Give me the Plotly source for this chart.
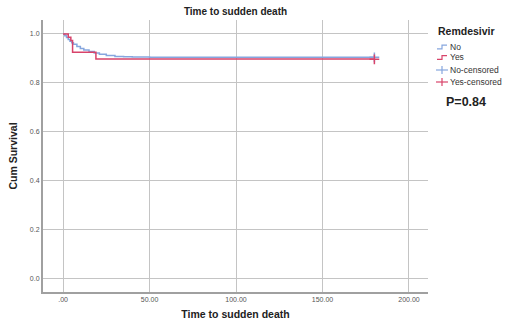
import plotly.graph_objects as go

no_time = [0, 1, 2, 3, 4, 5, 6, 8, 10, 12, 15, 18, 21, 25, 30, 35, 40, 50, 180]
no_surv = [1.0, 0.992, 0.985, 0.977, 0.970, 0.964, 0.958, 0.948, 0.940, 0.934, 0.928, 0.922, 0.917, 0.912, 0.908, 0.906, 0.905, 0.904, 0.904]
yes_time = [0, 3, 4.5, 5.5, 19, 180]
yes_surv = [1.0, 0.986, 0.973, 0.925, 0.897, 0.897]
no_cens_time = [180]
no_cens_surv = [0.904]
yes_cens_time = [180]
yes_cens_surv = [0.896]

x_ticks = [0, 50, 100, 150, 200]
x_labels = [".00", "50.00", "100.00", "150.00", "200.00"]
y_ticks = [0.0, 0.2, 0.4, 0.6, 0.8, 1.0]
y_labels = ["0.0", "0.2", "0.4", "0.6", "0.8", "1.0"]
legend_names = ["No", "Yes", "No-censored", "Yes-censored"]

BLUE = "#86A6DE"
RED = "#D8436A"
FONT = "Liberation Sans, Arial, sans-serif"

W, H = 505, 328
L, R, T, B = 43, 428, 20, 292


def px(x):
    return (x - L) / (R - L)


def py(y):
    return (B - y) / (B - T)


fig = go.Figure()
fig.add_trace(go.Scatter(x=no_time, y=no_surv, mode="lines", line_shape="hv",
                         line=dict(color=BLUE, width=1.5), name=legend_names[0]))
fig.add_trace(go.Scatter(x=yes_time, y=yes_surv, mode="lines", line_shape="hv",
                         line=dict(color=RED, width=1.5), name=legend_names[1]))
fig.add_trace(go.Scatter(x=no_cens_time, y=no_cens_surv, mode="markers",
                         marker=dict(symbol="cross-thin", size=7, line=dict(color=BLUE, width=1.5)),
                         name=legend_names[2]))
fig.add_trace(go.Scatter(x=yes_cens_time, y=yes_cens_surv, mode="markers",
                         marker=dict(symbol="cross-thin", size=7, line=dict(color=RED, width=1.5)),
                         name=legend_names[3]))

axis_common = dict(showgrid=True, gridcolor="#C4C4C4", gridwidth=1.3,
                   showline=True, linecolor="#A0A0A0", linewidth=2,
                   zeroline=False, tickfont=dict(size=7, color="#555555", family=FONT),
                   ticks="", mirror=False)

# manual compact legend (SPSS style)
shapes = []
annotations = []
legend_colors = [BLUE, RED, BLUE, RED]
item_y = [47, 57.5, 70, 82]
for i, (name, col, yy) in enumerate(zip(legend_names, legend_colors, item_y)):
    if i < 2:
        path = (f"M {px(437)} {py(yy + 1.8)} L {px(442)} {py(yy + 1.8)} "
                f"L {px(442)} {py(yy - 1.8)} L {px(447)} {py(yy - 1.8)}")
        shapes.append(dict(type="path", xref="paper", yref="paper", path=path,
                           line=dict(color=col, width=1.2)))
    else:
        shapes.append(dict(type="line", xref="paper", yref="paper",
                           x0=px(436), x1=px(448), y0=py(yy), y1=py(yy),
                           line=dict(color=col, width=1.2)))
        shapes.append(dict(type="line", xref="paper", yref="paper",
                           x0=px(442), x1=px(442), y0=py(yy - 4), y1=py(yy + 4),
                           line=dict(color=col, width=1.2)))
    annotations.append(dict(text=name, xref="paper", yref="paper", x=px(447.5), y=py(yy),
                            xanchor="left", yanchor="middle", showarrow=False,
                            font=dict(size=8.5, color="#333333", family=FONT)))

annotations.append(dict(text="<b>Remdesivir</b>", xref="paper", yref="paper",
                        x=px(466.5), y=py(31), xanchor="center", yanchor="middle",
                        showarrow=False, font=dict(size=10.5, color="#222222", family=FONT)))
annotations.append(dict(text="<b>P=0.84</b>", xref="paper", yref="paper",
                        x=px(466), y=py(102), xanchor="center", yanchor="middle",
                        showarrow=False, font=dict(size=12.5, color="#222222", family=FONT)))

fig.update_layout(
    width=W, height=H,
    margin=dict(l=L, r=W - R, t=T, b=H - B, autoexpand=False),
    paper_bgcolor="white", plot_bgcolor="white",
    font=dict(family=FONT, color="#222222"),
    showlegend=False,
    title=dict(text="<b>Time to sudden death</b>", x=(L + R) / 2 / W, xanchor="center",
               y=1 - 11 / H, yanchor="middle", font=dict(size=10, color="#222222")),
    xaxis=dict(range=[-11.6, 211], tickvals=x_ticks, ticktext=x_labels,
               title=dict(text="<b>Time to sudden death</b>", font=dict(size=10.5), standoff=8),
               **axis_common),
    yaxis=dict(range=[-0.057, 1.057], tickvals=y_ticks, ticktext=y_labels,
               title=dict(text="<b>Cum Survival</b>", font=dict(size=10.5), standoff=10),
               **axis_common),
    shapes=shapes,
    annotations=annotations,
)

fig.write_html("out.html", config={"displayModeBar": False},
               post_script="document.body.style.margin='0';document.body.style.overflow='hidden';")
